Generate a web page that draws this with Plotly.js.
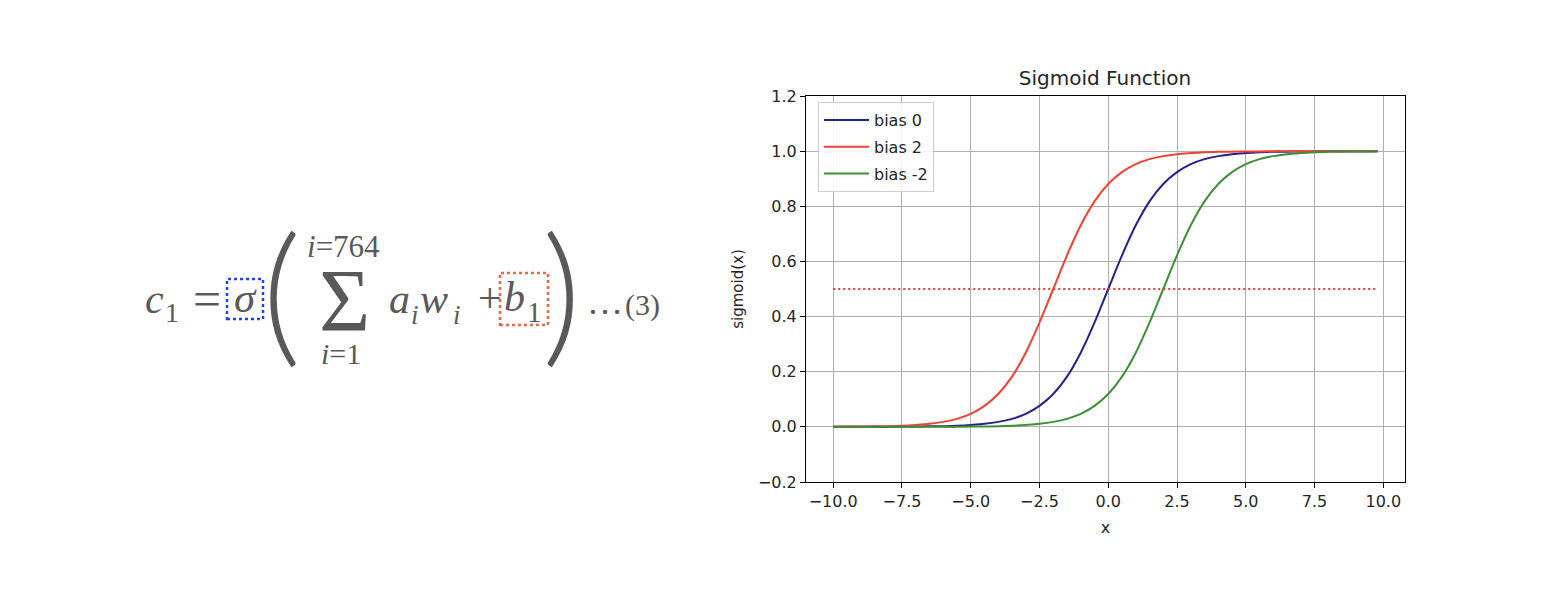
<!DOCTYPE html>
<html>
<head>
<meta charset="utf-8">
<script src="https://cdn.plot.ly/plotly-3.0.1.min.js"></script>
<style>html,body{margin:0;padding:0;background:#fff;}#chart{width:1546px;height:594px;}</style>
</head>
<body>
<div id="chart"></div>
<script>
// ---- data ----
const xValues = [-10,-9.5,-9,-8.5,-8,-7.5,-7,-6.5,-6,-5.5,-5,-4.5,-4,-3.5,-3,-2.5,-2,-1.5,-1,-0.5,0,0.5,1,1.5,2,2.5,3,3.5,4,4.5,5,5.5,6,6.5,7,7.5,8,8.5,9,9.5,9.8];
const bias0 = [0.000,0.000,0.000,0.000,0.000,0.001,0.001,0.002,0.002,0.004,0.007,0.011,0.018,0.029,0.047,0.076,0.119,0.182,0.269,0.378,0.500,0.622,0.731,0.818,0.881,0.924,0.953,0.971,0.982,0.989,0.993,0.996,0.998,0.998,0.999,0.999,1.000,1.000,1.000,1.000,1.000];
const bias2 = [0.000,0.001,0.001,0.002,0.002,0.004,0.007,0.011,0.018,0.029,0.047,0.076,0.119,0.182,0.269,0.378,0.500,0.622,0.731,0.818,0.881,0.924,0.953,0.971,0.982,0.989,0.993,0.996,0.998,0.998,0.999,0.999,1.000,1.000,1.000,1.000,1.000,1.000,1.000,1.000,1.000];
const biasNeg2 = [0.000,0.000,0.000,0.000,0.000,0.000,0.000,0.000,0.000,0.000,0.001,0.001,0.002,0.004,0.007,0.011,0.018,0.029,0.047,0.076,0.119,0.182,0.269,0.378,0.500,0.622,0.731,0.818,0.881,0.924,0.953,0.971,0.982,0.989,0.993,0.996,0.998,0.998,0.999,0.999,1.000];
const halfX = [-10, 9.8];
const halfY = [0.5, 0.5];
const seriesNames = ['bias 0', 'bias 2', 'bias -2'];
const xTicks = [-10,-7.5,-5,-2.5,0,2.5,5,7.5,10];
const yTicks = [-0.2,0,0.2,0.4,0.6,0.8,1.0,1.2];

// ---- layout helpers (figure pixels -> paper) ----
const W = 1546, H = 594;
const px = v => v / W;
const py = v => 1 - v / H;
const EQ = '#595959';
const SERIF = 'Liberation Serif, Times New Roman, serif';
const SANS = 'DejaVu Sans, sans-serif';
const TXT = '#262626';

const traces = [
  {x: xValues, y: bias0, name: seriesNames[0], mode: 'lines', legendgroup: 'g0', line: {color: '#22228c', width: 2, shape: 'spline'}},
  {x: xValues, y: bias2, name: seriesNames[1], mode: 'lines', legendgroup: 'g1', line: {color: '#ef4136', width: 2, shape: 'spline'}},
  {x: xValues, y: biasNeg2, name: seriesNames[2], mode: 'lines', legendgroup: 'g2', line: {color: '#3d8f35', width: 2, shape: 'spline'}},
  {x: halfX, y: halfY, mode: 'lines', showlegend: false, line: {color: '#f03c32', width: 2, dash: '2px,3px'}}
];

function ann(text, x, y, size, xanchor, fontExtra) {
  return {
    text: text, x: px(x), y: py(y), xref: 'paper', yref: 'paper',
    xanchor: xanchor || 'center', yanchor: 'middle', showarrow: false,
    font: Object.assign({family: SERIF, size: size, color: EQ}, fontExtra || {})
  };
}
const PAREN = {family: 'Lato, Liberation Serif, serif', weight: 300};

const annotations = [
  ann('<i>c</i>', 143, 299, 42, 'left'),
  ann('1', 163, 312, 28, 'left'),
  ann('=', 191, 299, 50, 'left'),
  ann('<i>σ</i>', 245, 297, 43, 'center'),
  ann('(', 281, 288, 152, 'center', PAREN),
  ann('Σ', 344, 300, 88, 'center'),
  ann('<i>i</i>=764', 343, 246, 31, 'center'),
  ann('<i>i</i>=1', 341, 354, 30, 'center'),
  ann('<i>a</i>', 387, 299, 42, 'left'),
  ann('<i>i</i>', 409, 315, 27, 'left'),
  ann('<i>w</i>', 418, 299, 42, 'left'),
  ann('<i>i</i>', 451, 315, 27, 'left'),
  ann('+', 476, 298, 42, 'left'),
  ann('<i>b</i>', 502, 297, 42, 'left'),
  ann('1', 525, 312, 29, 'left'),
  ann(')', 561, 288, 152, 'center', PAREN),
  ann('…', 585, 302, 36, 'left'),
  ann('(3)', 623, 305, 30, 'left')
];

const shapes = [
  {type: 'rect', xref: 'paper', yref: 'paper', x0: px(227), x1: px(263), y0: py(319), y1: py(279),
   line: {color: '#2040ff', width: 2.5, dash: 'dot'}},
  {type: 'rect', xref: 'paper', yref: 'paper', x0: px(500), x1: px(548), y0: py(325), y1: py(273),
   line: {color: '#ee6448', width: 2.5, dash: 'dot'}}
];

const layout = {
  width: W, height: H,
  margin: {l: 0, r: 0, t: 0, b: 0},
  paper_bgcolor: '#ffffff', plot_bgcolor: '#ffffff',
  font: {family: SANS, size: 16, color: TXT},
  title: {text: 'Sigmoid Function', x: px(1105), y: py(78), xref: 'paper', yref: 'paper',
          xanchor: 'center', yanchor: 'middle', font: {family: SANS, size: 20, color: TXT}},
  xaxis: {
    domain: [px(806), px(1405)], range: [-10.99, 10.79],
    tickvals: xTicks, tickformat: '.1f',
    showgrid: true, gridcolor: '#b0b0b0', gridwidth: 1, zeroline: false,
    showline: true, mirror: true, linecolor: '#000', linewidth: 1,
    ticks: 'outside', ticklen: 5, tickcolor: '#000',
    tickfont: {family: SANS, size: 16, color: TXT},
    title: {text: 'x', standoff: 11, font: {family: SANS, size: 16, color: TXT}}
  },
  yaxis: {
    domain: [py(482), py(96)], range: [-0.2, 1.2],
    tickvals: yTicks, tickformat: '.1f',
    showgrid: true, gridcolor: '#b0b0b0', gridwidth: 1, zeroline: false,
    showline: true, mirror: true, linecolor: '#000', linewidth: 1,
    ticks: 'outside', ticklen: 5, tickcolor: '#000',
    tickfont: {family: SANS, size: 16, color: TXT},
    title: {text: 'sigmoid(x)', standoff: 10, font: {family: SANS, size: 15, color: TXT}}
  },
  legend: {
    x: px(818), y: py(102), xref: 'paper', yref: 'paper', xanchor: 'left', yanchor: 'top',
    bgcolor: 'rgba(255,255,255,0.85)', bordercolor: '#cccccc', borderwidth: 1,
    font: {family: SANS, size: 16, color: TXT}, traceorder: 'grouped', tracegroupgap: 3,
    itemwidth: 45
  },
  showlegend: true,
  annotations: annotations,
  shapes: shapes
};

Plotly.newPlot('chart', traces, layout, {displayModeBar: false, staticPlot: true});
</script>
</body>
</html>
